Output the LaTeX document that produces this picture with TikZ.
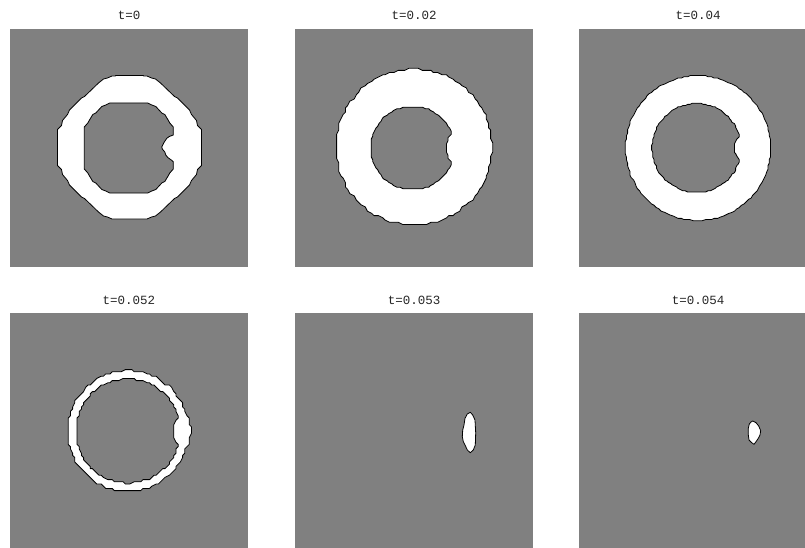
\documentclass[tikz,border=0pt]{standalone}
\usepackage{fontspec}
\setmonofont{Liberation Mono}
\definecolor{bg}{HTML}{808080}
\begin{document}
\begin{tikzpicture}[x=1pt,y=-1pt,
  panel/.style={fill=bg, draw=none},
  blob/.style={fill=white, draw=black, line width=0.8pt, line join=round},
  hole/.style={fill=bg, draw=black, line width=0.8pt, line join=round},
  ttl/.style={font=\ttfamily\fontsize{12.5}{14}\selectfont, text=black!85, inner sep=0pt},
  declare function={
    q(\vv)=round(\vv/2.2)*2.2;
    qm(\vv)=round(\vv/1.6)*1.6;
    qs(\vv)=round(\vv/1.2)*1.2;
    holer(\ang,\rad,\dis,\brad)=((cos(\ang)>0) && (abs(\dis*sin(\ang))<\brad)) ? min(\rad,\dis*cos(\ang)-sqrt(max(0,\brad*\brad-\dis*\dis*sin(\ang)*sin(\ang)))) : \rad;
    lens(\ang,\wid)=sqrt(max(0,1-(\ang/\wid)*(\ang/\wid)));
  }]
\useasboundingbox (0,0) rectangle (805,548);
\clip (0,0) rectangle (805,548);

% panels
\fill[panel] (10,29) rectangle (248,267);
\fill[panel] (295,29) rectangle (533,267);
\fill[panel] (579,29) rectangle (817,267);
\fill[panel] (10,313) rectangle (248,551);
\fill[panel] (295,313) rectangle (533,551);
\fill[panel] (579,313) rectangle (817,551);

% titles
\node[ttl] (t1) at (129,15) {t=0};
\node[ttl] (t2) at (414,15) {t=0.02};
\node[ttl] (t3) at (698,15) {t=0.04};
\node[ttl] (t4) at (129,300) {t=0.052};
\node[ttl] (t5) at (414,300) {t=0.053};
\node[ttl] (t6) at (698,300) {t=0.054};

% panel 1 : t=0 (octagonal ring with small notch)
\begin{scope}[shift={(129.5,147.5)}]
\draw[blob] (-17.5,-71.5) -- (-14,-71.5) -- (-14,-72) -- (14,-72) -- (14,-71.5) -- (17.5,-71.5)
  -- (22,-69.5) -- (26,-68.5) -- (31,-64.5) -- (45,-51) -- (48,-49.5) -- (60,-37.5) -- (62,-33) -- (67,-27) -- (68,-22) -- (72,-18)
  -- (72,18) -- (68,22) -- (67,27) -- (62,33) -- (60,37.5) -- (48,49.5) -- (45,51) -- (31,64.5) -- (26,68.5) -- (22,69.5) -- (17.5,71.5)
  -- (-17.5,71.5) -- (-22,69.5) -- (-26,68.5) -- (-31,64.5) -- (-45,51) -- (-48,49.5) -- (-60,37.5) -- (-62,33) -- (-67,27) -- (-68,22) -- (-72,18)
  -- (-72,-18) -- (-68,-22) -- (-67,-27) -- (-62,-33) -- (-60,-37.5) -- (-48,-49.5) -- (-45,-51) -- (-31,-64.5) -- (-26,-68.5) -- (-22,-69.5) -- cycle;
\end{scope}
\begin{scope}[shift={(128.8,148)}]
\draw[hole] (-19,-45) -- (19,-45) -- (23,-43) -- (27,-41.5) -- (33,-35) -- (36,-33.5) -- (39,-28.5) -- (41,-25) -- (44.5,-21)
  -- (44.5,-13) -- (40.5,-11.5) -- (38,-9.7) -- (35.5,-6) -- (33,-1) -- (33.5,1) -- (36,4) -- (37,7) -- (39,9.5) -- (42.5,12) -- (44.5,13.7)
  -- (44.5,21) -- (41,25) -- (39,28.5) -- (36,33.5) -- (33,35) -- (27,41.5) -- (23,43) -- (19,45)
  -- (-19,45) -- (-23,43) -- (-27,41.5) -- (-33,35) -- (-36,33.5) -- (-39,28.5) -- (-41,25) -- (-44.5,21)
  -- (-44.5,-21) -- (-41,-25) -- (-39,-28.5) -- (-36,-33.5) -- (-33,-35) -- (-27,-41.5) -- (-23,-43) -- cycle;
\end{scope}

% panel 2 : t=0.02
\draw[blob] plot[domain=0:360, samples=121, variable=\ang]
  ({q(414+78*cos(\ang))},{q(147+78*sin(\ang))}) -- cycle;
\draw[hole] plot[domain=-180:180, samples=91, variable=\ang]
  ({qm(412.5+holer(\ang,41.5,55.3,21.8)*cos(\ang))},{qm(148+holer(\ang,41.5,55.3,21.8)*sin(\ang))}) -- cycle;

% panel 3 : t=0.04
\draw[blob] plot[domain=0:360, samples=151, variable=\ang]
  ({qs(698+72.5*cos(\ang))},{qs(148+72.5*sin(\ang))}) -- cycle;
\draw[hole] plot[domain=-180:180, samples=121, variable=\ang]
  ({qs(696.5+holer(\ang,44.5,53.6,16.1)*cos(\ang))},{qs(148+holer(\ang,44.5,53.6,16.1)*sin(\ang))}) -- cycle;

% panel 4 : t=0.052
\draw[blob] plot[domain=-180:180, samples=121, variable=\ang]
  ({q(128+(60.5+2*lens(\ang,14))*cos(\ang))},{q(431+(60.5+2*lens(\ang,14))*sin(\ang))}) -- cycle;
\draw[hole] plot[domain=-180:180, samples=121, variable=\ang]
  ({q(128+(52-6*lens(\ang,14))*cos(\ang))},{q(431+(52-6*lens(\ang,14))*sin(\ang))}) -- cycle;

% panel 5 : t=0.053
\draw[blob] (470.3,412.3) -- (472.7,415) -- (475,420) -- (475.7,433) -- (475.3,445)
  -- (473.3,450) -- (470.3,452.7) -- (467.3,450) -- (465,445) -- (463.3,441.7)
  -- (462.3,436.7) -- (462.7,430) -- (464,425) -- (465,418.3) -- (467.3,414) -- cycle;

% panel 6 : t=0.054
\draw[blob] (752.7,421) -- (756,422.7) -- (758.7,426) -- (760.7,430.7) -- (760,435)
  -- (758.3,438.3) -- (756,441.7) -- (754,444.3) -- (751.7,442.7) -- (749,440)
  -- (748.3,435) -- (748.3,428.3) -- (749.3,424) -- (751,422) -- cycle;
\end{tikzpicture}
\end{document}
